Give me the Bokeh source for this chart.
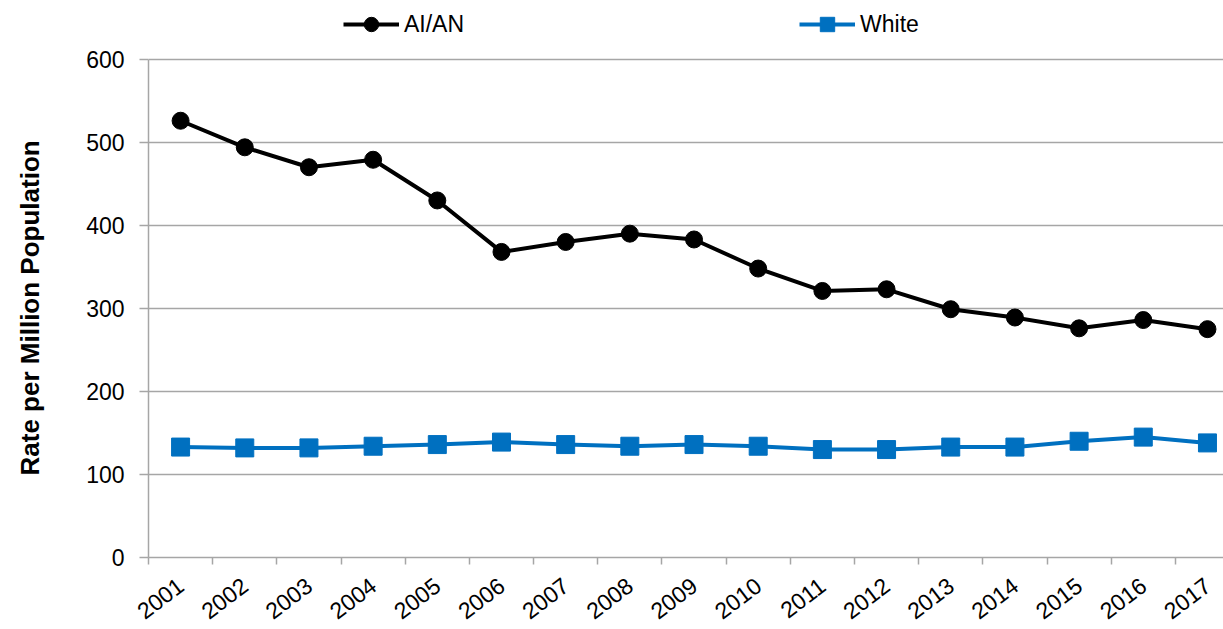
from bokeh.plotting import figure
from bokeh.models import (Range1d, FixedTicker, Legend, LegendItem, ColumnDataSource)
from bokeh.embed import file_html
from bokeh.resources import INLINE

years = ["2001", "2002", "2003", "2004", "2005", "2006", "2007", "2008", "2009",
         "2010", "2011", "2012", "2013", "2014", "2015", "2016", "2017"]
aian = [526, 494, 470, 479, 430, 368, 380, 390, 383, 348, 321, 323, 299, 289, 276, 286, 275]
white = [133, 132, 132, 134, 136, 139, 136, 134, 136, 134, 130, 130, 133, 133, 140, 145, 138]
y_ticks = [0, 100, 200, 300, 400, 500, 600]
y_title = "Rate per Million Population"

FONT = "Liberation Sans"
GRID = "#a6a6a6"

xpos = [i + 0.5 for i in range(len(years))]
bounds = [float(i) for i in range(len(years) + 1)]

src = ColumnDataSource(dict(x=xpos, aian=aian, white=white))

# frame spans the full height above the x axis; the 0-600 scale keeps 500 px
p = figure(width=1223, height=629, output_backend="svg", toolbar_location=None,
           x_range=Range1d(0, 16.75), y_range=Range1d(0, 670.8),
           min_border_left=148, min_border_right=0, min_border_top=0,
           min_border_bottom=70)
p.outline_line_color = None
p.background_fill_color = "white"

# grid
p.xgrid.visible = False
p.ygrid.grid_line_color = GRID
p.ygrid.grid_line_width = 1.5

# y axis
p.yaxis.ticker = FixedTicker(ticks=y_ticks)
p.yaxis.bounds = (0, 600)
p.yaxis.axis_line_color = GRID
p.yaxis.axis_line_width = 1.5
p.yaxis.major_tick_line_color = GRID
p.yaxis.major_tick_line_width = 1.5
p.yaxis.major_tick_out = 9
p.yaxis.major_tick_in = 0
p.yaxis.minor_tick_line_color = None
p.yaxis.major_label_text_font = FONT
p.yaxis.major_label_text_font_size = "23px"
p.yaxis.major_label_text_color = "black"
p.yaxis.major_label_standoff = 15
# trailing no-break spaces centre the visible title on the 0-600 axis span
p.yaxis.axis_label = y_title + "\u00a0" * 8
p.yaxis.axis_label_text_font = FONT
p.yaxis.axis_label_text_font_style = "bold"
p.yaxis.axis_label_text_font_size = "26px"
p.yaxis.axis_label_text_color = "black"
p.yaxis.axis_label_standoff = 38

# x axis
p.xaxis.ticker = FixedTicker(ticks=xpos, minor_ticks=bounds)
p.xaxis.major_label_overrides = {x: y for x, y in zip(xpos, years)}
p.xaxis.axis_line_color = GRID
p.xaxis.axis_line_width = 1.5
p.xaxis.major_tick_line_color = None
p.xaxis.major_tick_out = 0
p.xaxis.major_tick_in = 0
p.xaxis.minor_tick_line_color = GRID
p.xaxis.minor_tick_line_width = 1.5
p.xaxis.minor_tick_out = 7
p.xaxis.minor_tick_in = 0
p.xaxis.major_label_orientation = 0.65
p.xaxis.major_label_text_font = FONT
p.xaxis.major_label_text_font_size = "23px"
p.xaxis.major_label_text_color = "black"
p.xaxis.major_label_standoff = 18

# series
l1 = p.line("x", "aian", source=src, line_color="black", line_width=4)
m1 = p.scatter("x", "aian", source=src, marker="circle", size=17,
               fill_color="black", line_color="black")
l2 = p.line("x", "white", source=src, line_color="#0070C0", line_width=4)
m2 = p.scatter("x", "white", source=src, marker="square", size=18,
               fill_color="#0070C0", line_color="#0070C0")

legend = Legend(items=[LegendItem(label="AI/AN", renderers=[l1, m1]),
                       LegendItem(label="White", renderers=[l2, m2])],
                orientation="horizontal", location=(195, 515),
                glyph_width=56, glyph_height=36, label_standoff=5,
                spacing=335, padding=0, margin=0,
                border_line_color=None, background_fill_alpha=0,
                label_text_font=FONT, label_text_font_size="23px",
                label_text_color="black")
p.add_layout(legend, "center")

open("out.html", "w").write(file_html(p, INLINE))
